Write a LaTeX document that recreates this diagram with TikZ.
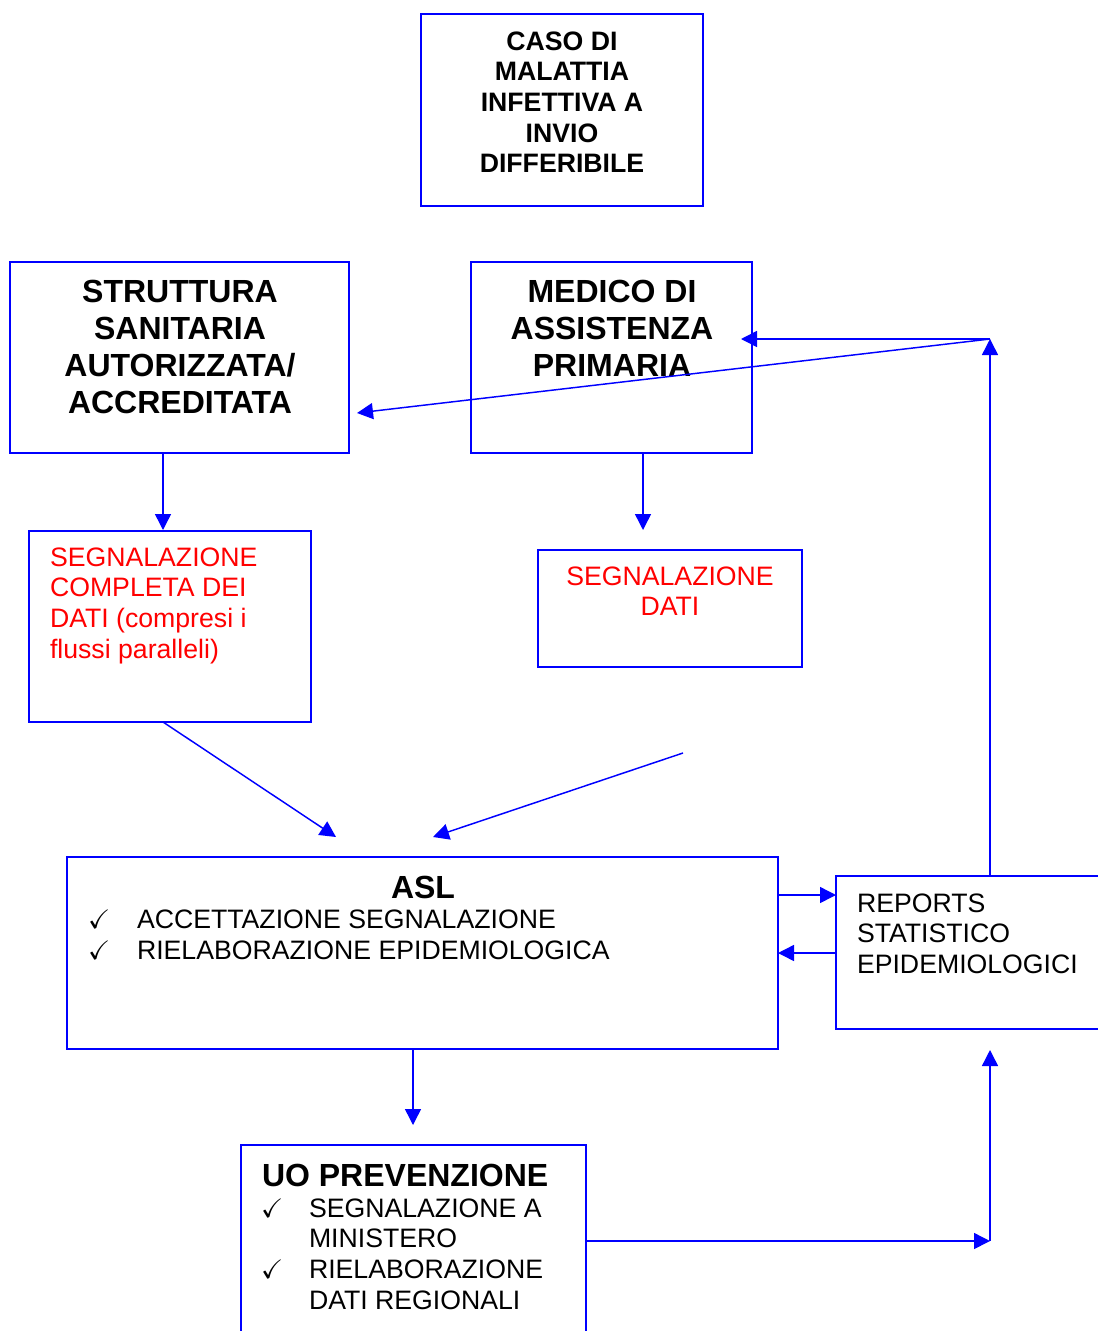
\documentclass[tikz,border=0pt]{standalone}
\usepackage{amssymb}
\usepackage{amsmath}
\usepackage{fontspec}
\setmainfont{Liberation Sans}
\usetikzlibrary{arrows.meta}
\newcommand{\chk}{{\fontsize{20}{22}\selectfont$\boldsymbol{\checkmark}$}}
\begin{document}
\begin{tikzpicture}[x=0.75pt,y=-0.75pt,
  box/.style={draw=blue, line width=1.2pt, rectangle, inner sep=0pt, outer sep=0pt, anchor=north west},
  arr/.style={draw=blue, line width=1.1pt, -{Triangle[length=12pt,width=12pt]}},
  txt/.style={inner sep=0pt, outer sep=0pt, font=\fontsize{20}{23}\selectfont},
  btxt/.style={inner sep=0pt, outer sep=0pt, font=\fontsize{20}{23}\selectfont\bfseries},
  bbtxt/.style={inner sep=0pt, outer sep=0pt, font=\fontsize{24}{27.75}\selectfont\bfseries},
  rtxt/.style={inner sep=0pt, outer sep=0pt, text=red, font=\fontsize{20}{23}\selectfont}]
\useasboundingbox (0,0) rectangle (1098,1331);
\fill[white] (0,0) rectangle (1098,1331);

% boxes
\node[box, minimum width=211.5pt, minimum height=144pt] (caso) at (421,14) {};
\node[box, minimum width=254.25pt, minimum height=143.25pt] (strut) at (10,262) {};
\node[box, minimum width=210.75pt, minimum height=143.25pt] (medico) at (471,262) {};
\node[box, minimum width=211.5pt, minimum height=143.25pt] (compl) at (29,531) {};
\node[box, minimum width=198pt, minimum height=87.75pt] (dati) at (538,550) {};
\node[box, minimum width=533.25pt, minimum height=144pt] (asl) at (67,857) {};
\node[box, minimum width=210pt, minimum height=114.75pt] (rep) at (836,876) {};
\node[box, minimum width=258.75pt, minimum height=157.5pt] (uo) at (241,1145) {};

% texts
\node[btxt, anchor=north, align=center] (casot) at (562,31.5) {CASO DI\\MALATTIA\\INFETTIVA A\\INVIO\\DIFFERIBILE};
\node[bbtxt, anchor=north, align=center] (strutt) at (180,280.5) {STRUTTURA\\SANITARIA\\AUTORIZZATA/\\ACCREDITATA};
\node[bbtxt, anchor=north, align=center] (medicot) at (612,280.5) {MEDICO DI\\ASSISTENZA\\PRIMARIA};
\node[rtxt, anchor=north west, align=left] (complt) at (50,547.5) {SEGNALAZIONE\\COMPLETA DEI\\DATI (compresi i\\flussi paralleli)};
\node[rtxt, anchor=north, align=center] (datit) at (670,566.5) {SEGNALAZIONE\\DATI};
\node[txt, anchor=north west, align=left] (rept) at (857,893.5) {REPORTS\\STATISTICO\\EPIDEMIOLOGICI};

\node[bbtxt, anchor=base] (aslt) at (423,898.5) {ASL};
\node[txt, anchor=base west] (aslc1) at (88,928.5) {\chk};
\node[txt, anchor=base west] (asll1) at (137,928.5) {ACCETTAZIONE SEGNALAZIONE};
\node[txt, anchor=base west] (aslc2) at (88,959.5) {\chk};
\node[txt, anchor=base west] (asll2) at (137,959.5) {RIELABORAZIONE EPIDEMIOLOGICA};

\node[bbtxt, anchor=base west] (uot) at (262,1186.5) {UO PREVENZIONE};
\node[txt, anchor=base west] (uoc1) at (261,1217.5) {\chk};
\node[txt, anchor=base west] (uol1) at (309,1217.5) {SEGNALAZIONE A};
\node[txt, anchor=base west] (uol2) at (309,1247.5) {MINISTERO};
\node[txt, anchor=base west] (uoc2) at (261,1278.5) {\chk};
\node[txt, anchor=base west] (uol3) at (309,1278.5) {RIELABORAZIONE};
\node[txt, anchor=base west] (uol4) at (309,1309.5) {DATI REGIONALI};

% helper coordinates
\coordinate (a1) at (163,530);
\coordinate (m1) at (643,530);
\coordinate (t1) at (336,837);
\coordinate (s2) at (683,753);
\coordinate (t2) at (433,837);
\coordinate (a3) at (413,1125);
\coordinate (c4) at (990,1241);
\coordinate (c5) at (990,1050);
\coordinate (c6) at (990,339);
\coordinate (c7) at (741,339);
\coordinate (c8) at (357,413);
\coordinate (h1) at (800,895);
\coordinate (h2) at (800,953);

% connectors
\draw[arr] (strut.south -| a1) -- (a1);
\draw[arr] (medico.south -| m1) -- (m1);
\draw[arr] (compl.south -| a1) -- (t1);
\draw[arr] (s2) -- (t2);
\draw[arr] (asl.south -| a3) -- (a3);
\draw[arr] (uo.east |- c4) -- (c4);
\draw[arr] (c4) -- (c5);
\draw[arr] (asl.east |- h1) -- (rep.west |- h1);
\draw[arr] (rep.west |- h2) -- (asl.east |- h2);
\draw[arr] (rep.north -| c6) -- (c6);
\draw[arr] (c6) -- (c7);
\draw[arr] (c6) -- (c8);
\end{tikzpicture}
\end{document}
